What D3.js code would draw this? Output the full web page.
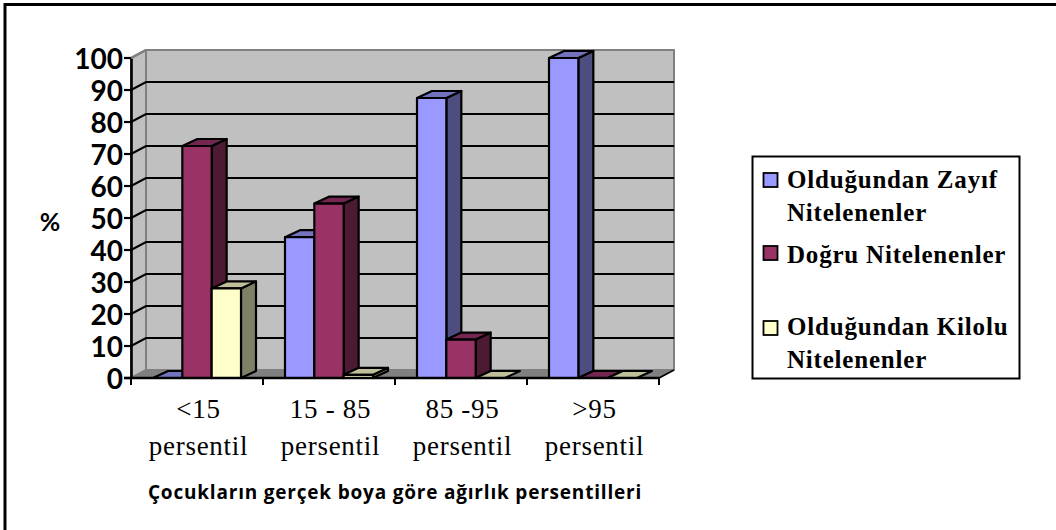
<!DOCTYPE html>
<html>
<head>
<meta charset="utf-8">
<script src="https://cdnjs.cloudflare.com/ajax/libs/d3/7.8.5/d3.min.js"></script>
<style>
html,body{margin:0;padding:0;background:#fff}
svg{display:block}
</style>
</head>
<body>
<svg id="chart" width="1056" height="530"></svg>
<script>
// Share of children in each weight-for-height percentile band, by how they were perceived.
const categories = [["<15", "persentil"], ["15 - 85", "persentil"], ["85 -95", "persentil"], [">95", "persentil"]];
const seriesNames = [["Olduğundan Zayıf", "Nitelenenler"], ["Doğru Nitelenenler"], ["Olduğundan Kilolu", "Nitelenenler"]];
const underValues = [0, 44, 87.5, 100];
const correctValues = [72.5, 54.5, 12, 0];
const overValues = [28, 1, 0, 0];
const yTicks = [0, 10, 20, 30, 40, 50, 60, 70, 80, 90, 100];
const xTitle = "Çocukların gerçek boya göre ağırlık persentilleri";
const yTitle = "%";

const faces = [
  {front: "#9999ff", top: "#7272bf", side: "#4d4d80"},
  {front: "#993366", top: "#732650", side: "#4d1a33"},
  {front: "#ffffcc", top: "#bfbf99", side: "#808066"}
];
const series = [underValues, correctValues, overValues];

const svg = d3.select("#chart");
const left = 131, right = 659, floorY = 378, topY = 58;
const wallDx = 15, wallDy = -8, barDx = 15, barDy = -7;

const x = d3.scaleBand().domain(d3.range(categories.length)).range([left, right]).paddingInner(0).paddingOuter(0);
const inner = d3.scaleBand().domain(d3.range(series.length)).range([22, x.step() - 22]);
const y = d3.scaleLinear().domain([0, 100]).range([floorY, topY]);

const poly = (pts, fill, stroke, sw) => svg.append("polygon")
  .attr("points", pts.map(p => p.join(",")).join(" "))
  .attr("fill", fill).attr("stroke", stroke).attr("stroke-width", sw).attr("stroke-linejoin", "round");

// Frame: only the top and left rules are drawn
svg.append("path").attr("d", "M5,530V4.5H1056").attr("fill", "none").attr("stroke", "#000").attr("stroke-width", 3);

// Chart box: back wall, side wall and floor
poly([[left + wallDx, y(100) + wallDy], [right + wallDx, y(100) + wallDy], [right + wallDx, y(0) + wallDy], [left + wallDx, y(0) + wallDy]], "#c0c0c0", "#808080", 2);
poly([[left, y(100)], [left + wallDx, y(100) + wallDy], [left + wallDx, y(0) + wallDy], [left, y(0)]], "#c0c0c0", "#808080", 2);
poly([[left, y(0)], [left + wallDx, y(0) + wallDy], [right + wallDx, y(0) + wallDy], [right, y(0)]], "#808080", "#808080", 1);

// Gridlines run along the side wall and across the back wall
yTicks.filter(t => t > 0 && t < 100).forEach(t => {
  svg.append("path")
    .attr("d", d3.line()([[left, y(t)], [left + wallDx, y(t) + wallDy], [right + wallDx, y(t) + wallDy]]))
    .attr("fill", "none").attr("stroke", "#000").attr("stroke-width", 2);
});

// Bars, each drawn as an extruded box
const barStroke = 2.2;
categories.forEach((_, c) => {
  series.forEach((vals, s) => {
    const v = vals[c];
    const x0 = x(c) + inner(s), x1 = x0 + inner.bandwidth();
    const yt = y(v), yb = y(0);
    if (v > 0) {
      poly([[x1, yt], [x1 + barDx, yt + barDy], [x1 + barDx, yb + barDy], [x1, yb]], faces[s].side, "#000", barStroke);
    }
    poly([[x0, yt], [x0 + barDx, yt + barDy], [x1 + barDx, yt + barDy], [x1, yt]], faces[s].top, "#000", barStroke);
    if (v > 0) {
      poly([[x0, yt], [x1, yt], [x1, yb], [x0, yb]], faces[s].front, "#000", barStroke);
    }
  });
});

// Axes
const yAxis = d3.axisLeft(y).tickValues(yTicks).tickSize(0).tickPadding(8);
const gy = svg.append("g").attr("transform", `translate(${left},0)`).call(yAxis);
gy.select(".domain").attr("stroke", "#000").attr("stroke-width", 2.6);
gy.selectAll("text").attr("font-family", "Lato").attr("font-weight", 700).attr("font-size", 28).attr("fill", "#000").attr("dy", "0.36em");
yTicks.forEach(t => {
  svg.append("line").attr("x1", left - 7).attr("x2", left).attr("y1", y(t)).attr("y2", y(t)).attr("stroke", "#000").attr("stroke-width", 2.2);
});
svg.append("line").attr("x1", left).attr("x2", left + wallDx).attr("y1", y(100)).attr("y2", y(100) + wallDy).attr("stroke", "#808080").attr("stroke-width", 2);

svg.append("line").attr("x1", left - 7).attr("x2", right).attr("y1", y(0)).attr("y2", y(0)).attr("stroke", "#000").attr("stroke-width", 2.6);
svg.append("line").attr("x1", right).attr("x2", right + wallDx).attr("y1", y(0)).attr("y2", y(0) + wallDy).attr("stroke", "#000").attr("stroke-width", 1.6);
d3.range(categories.length + 1).forEach(i => {
  const tx = left + i * x.step();
  svg.append("line").attr("x1", tx).attr("x2", tx).attr("y1", y(0)).attr("y2", y(0) + 7).attr("stroke", "#000").attr("stroke-width", 2);
});

// Category labels
categories.forEach((lines, c) => {
  lines.forEach((t, i) => {
    svg.append("text").attr("x", x(c) + x.step() / 2 + 1.5).attr("y", 418 + i * 37)
      .attr("text-anchor", "middle").attr("font-family", "'Liberation Serif'").attr("font-size", 27).attr("letter-spacing", 0.7).attr("fill", "#000").text(t);
  });
});

// Axis titles
svg.append("text").attr("x", 395).attr("y", 499).attr("text-anchor", "middle")
  .attr("font-family", "'Open Sans'").attr("font-weight", 700).attr("font-size", 19).attr("letter-spacing", 0.8).attr("fill", "#000").text(xTitle);
svg.append("text").attr("x", 50).attr("y", 231).attr("text-anchor", "middle")
  .attr("font-family", "Lato").attr("font-weight", 700).attr("font-size", 25).attr("fill", "#000").text(yTitle);

// Legend
svg.append("rect").attr("x", 752.5).attr("y", 156.5).attr("width", 267).attr("height", 222)
  .attr("fill", "#fff").attr("stroke", "#000").attr("stroke-width", 2);
const legendRows = [188, 263, 335];
const swatchTops = [173, 246, 321];
seriesNames.forEach((lines, s) => {
  svg.append("rect").attr("x", 763.5).attr("y", swatchTops[s]).attr("width", 14).attr("height", 14)
    .attr("fill", faces[s].front).attr("stroke", "#000").attr("stroke-width", 1.8);
  lines.forEach((t, i) => {
    svg.append("text").attr("x", 787).attr("y", legendRows[s] + i * 33)
      .attr("font-family", "'Liberation Serif'").attr("font-weight", 700).attr("font-size", 25).attr("letter-spacing", 0.8).attr("fill", "#000").text(t);
  });
});
</script>
</body>
</html>
